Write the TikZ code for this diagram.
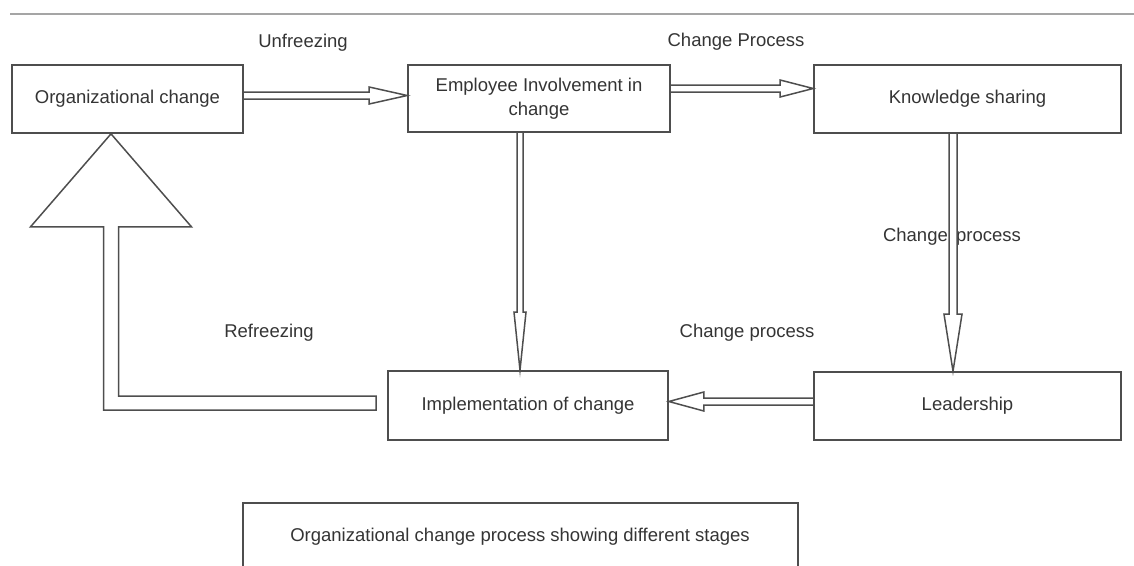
\documentclass[tikz,border=0pt]{standalone}
\usepackage{fontspec}
\setmainfont{Liberation Sans}
\usetikzlibrary{calc}
\definecolor{edge}{RGB}{78,78,78}
\definecolor{ink}{RGB}{52,52,52}
\definecolor{rulegray}{RGB}{165,165,165}
\tikzset{
  stage/.style={draw=edge, line width=1.7pt, text=ink, align=center, inner sep=0pt,
    font=\fontsize{18.5}{24}\selectfont},
  tag/.style={text=ink, inner sep=0pt, font=\fontsize{18.5}{24}\selectfont},
  flowline/.style={draw=edge, line width=1.5pt, line join=miter},
}
% Hollow block arrow from #1 to #2: shaft half width #3, head half width #4, head length #5
\newcommand\hollowarrow[5]{%
  \draw[flowline]
    ($(#1)!#3!90:(#2)$) --
    ($(#2)!#5!(#1)!#3!-90:(#1)$) --
    ($(#2)!#5!(#1)!#4!-90:(#1)$) --
    (#2) --
    ($(#2)!#5!(#1)!#4!90:(#1)$) --
    ($(#2)!#5!(#1)!#3!90:(#1)$) --
    ($(#1)!#3!-90:(#2)$);}
\begin{document}
\begin{tikzpicture}[x=1pt,y=-1pt]
\useasboundingbox (0,0) rectangle (1134,565);
\clip (0,0) rectangle (1134,565);

% header rule
\draw[rulegray, line width=1.6pt] (10,14) -- (1134,14);

% stages
\node[stage, minimum width=231pt, minimum height=68pt] (A) at (127.5,99) {Organizational change};
\node[stage, minimum width=262pt, minimum height=67pt] (B) at (539,98.5) {Employee Involvement in\\change};
\node[stage, minimum width=307pt, minimum height=68pt] (C) at (967.5,99) {Knowledge sharing};
\node[stage, minimum width=307pt, minimum height=68pt] (D) at (967.5,406) {Leadership};
\node[stage, minimum width=280pt, minimum height=69pt] (E) at (528,405.5) {Implementation of change};
\node[stage, minimum width=555pt, minimum height=82pt, anchor=north] (F) at (520.5,502) {};
\node[tag] (Ftext) at (520,537) {Organizational change process showing different stages};

% arrow labels
\node[tag] (l1) at (303,43) {Unfreezing};
\node[tag] (l2) at (736,42) {Change Process};
\node[tag] (l3) at (952,237) {Change\hspace{0.45em}process};
\node[tag] (l4) at (747,333) {Change process};
\node[tag] (l5) at (269,333) {Refreezing};

% connector end points
\coordinate (ab1) at ([yshift=3.5pt]A.east);
\coordinate (ab2) at (B.west |- ab1);
\coordinate (bc1) at ([yshift=10pt]B.east);
\coordinate (bc2) at (C.west |- bc1);
\coordinate (be1) at ([xshift=-19pt]B.south);
\coordinate (be2) at (be1 |- E.north);
\coordinate (cd1) at ([xshift=-14.5pt]C.south);
\coordinate (cd2) at (cd1 |- D.north);
\coordinate (de1) at ([yshift=4.5pt]D.west);
\coordinate (de2) at (E.east |- de1);

\hollowarrow{ab1}{ab2}{3.5pt}{8.5pt}{38pt}
\hollowarrow{bc1}{bc2}{3.5pt}{8.5pt}{33pt}
\hollowarrow{be1}{be2}{3pt}{6pt}{58pt}
\hollowarrow{cd1}{cd2}{4pt}{9pt}{57pt}
\hollowarrow{de1}{de2}{3.5pt}{9.5pt}{35pt}

% refreezing: large block arrow back to the first stage
\coordinate (rf1) at ([xshift=-11pt,yshift=2.5pt]E.west);
\coordinate (rf2) at ([xshift=-16.5pt]A.south);
\draw[flowline] let \p1=(rf1), \p2=(rf2) in
  (\x1,\y1+7pt) -- (\x2+7.5pt,\y1+7pt) -- (\x2+7.5pt,\y2-93pt) --
  (\x2+80.5pt,\y2-93pt) -- (\x2,\y2) -- (\x2-80.5pt,\y2-93pt) --
  (\x2-7.5pt,\y2-93pt) -- (\x2-7.5pt,\y1-7pt) -- (\x1,\y1-7pt) -- cycle;
\end{tikzpicture}
\end{document}
